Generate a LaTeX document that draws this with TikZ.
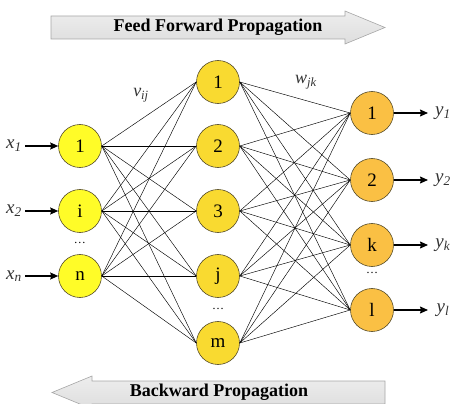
\documentclass[tikz,border=0pt]{standalone}
\usepackage{fontspec}
\setmainfont{Liberation Serif}
\usetikzlibrary{arrows.meta}

\definecolor{inyellow}{RGB}{255,252,40}
\definecolor{hidyellow}{RGB}{249,218,48}
\definecolor{outorange}{RGB}{250,192,68}
\definecolor{rimgray}{RGB}{85,75,40}

\newcommand{\sublab}[2]{\textit{#1}\textsubscript{\textit{#2}}}

\begin{document}
\begin{tikzpicture}[x=1pt, y=-1pt,
    neuron/.style = {circle, draw=rimgray, line width=0.6pt,
      minimum size=43pt, inner sep=0pt,
      font=\fontsize{19}{19}\selectfont},
    innode/.style = {neuron, fill=inyellow},
    hidnode/.style = {neuron, fill=hidyellow},
    outnode/.style = {neuron, fill=outorange},
    link/.style = {line width=0.45pt},
    io/.style = {line width=1.1pt, -{Stealth[length=8pt, width=7pt, inset=1pt]}},
    iolab/.style = {text=black!80, font=\fontsize{19}{19}\selectfont},
    wlab/.style = {text=black!80, font=\fontsize{18}{18}\selectfont},
    dotlab/.style = {font=\fontsize{12}{12}\selectfont},
    banner/.style = {draw=gray!70, line width=0.6pt,
      top color=gray!14, bottom color=gray!26},
    bannertext/.style = {font=\fontsize{18}{18}\selectfont\bfseries}]
  \useasboundingbox (0,0) rectangle (456,404);

  % propagation arrows
  \path[banner] (51,16) -- (345,16) -- (345,11) -- (385,27.5)
    -- (345,44) -- (345,39) -- (51,39) -- cycle;
  \node[bannertext] (fwd) at (218,27.5) {Feed Forward Propagation};
  \path[banner] (385,381) -- (92,381) -- (92,376) -- (52,392.5)
    -- (92,409) -- (92,404) -- (385,404) -- cycle;
  \node[bannertext] (bwd) at (219,392) {Backward Propagation};

  % input layer
  \node[innode] (i1) at (80,146) {1};
  \node[innode] (i2) at (80,211) {i};
  \node[innode] (i3) at (80,276) {n};
  \node[dotlab] (idots) at (80,243) {\dots};

  % hidden layer
  \node[hidnode] (h1) at (218,82) {1};
  \node[hidnode] (h2) at (218,146) {2};
  \node[hidnode] (h3) at (218,211) {3};
  \node[hidnode] (h4) at (218,276) {j};
  \node[hidnode] (h5) at (218,343) {m};
  \node[dotlab] (hdots) at (218,309) {\dots};

  % output layer
  \node[outnode] (o1) at (372,113) {1};
  \node[outnode] (o2) at (372,180) {2};
  \node[outnode] (o3) at (372,245) {k};
  \node[outnode] (o4) at (372,310) {l};
  \node[dotlab] (odots) at (372,273) {\dots};

  % weights
  \foreach \a in {i1,i2,i3}
    \foreach \b in {h1,h2,h3,h4,h5}
      \draw[link] (\a.east) -- (\b.west);
  \foreach \a in {h1,h2,h3,h4,h5}
    \foreach \b in {o1,o2,o3,o4}
      \draw[link] (\a.east) -- (\b.west);
  \node[wlab] (vij) at (141,95) {\sublab{v}{ij}};
  \node[wlab] (wjk) at (306,82) {\sublab{w}{jk}};

  % inputs and outputs
  \node[iolab] (xl1) at (14,146) {\sublab{x}{1}};
  \node[iolab] (xl2) at (14,211) {\sublab{x}{2}};
  \node[iolab] (xl3) at (14,276) {\sublab{x}{n}};
  \coordinate (xs1) at (25,146);
  \coordinate (xs2) at (25,211);
  \coordinate (xs3) at (25,276);
  \draw[io] (xs1) -- (i1);
  \draw[io] (xs2) -- (i2);
  \draw[io] (xs3) -- (i3);

  \node[iolab] (yl1) at (443,113) {\sublab{y}{1}};
  \node[iolab] (yl2) at (443,180) {\sublab{y}{2}};
  \node[iolab] (yl3) at (443,245) {\sublab{y}{k}};
  \node[iolab] (yl4) at (443,310) {\sublab{y}{l}};
  \coordinate (ye1) at (428,113);
  \coordinate (ye2) at (428,180);
  \coordinate (ye3) at (428,245);
  \coordinate (ye4) at (428,310);
  \draw[io] (o1) -- (ye1);
  \draw[io] (o2) -- (ye2);
  \draw[io] (o3) -- (ye3);
  \draw[io] (o4) -- (ye4);
\end{tikzpicture}
\end{document}
